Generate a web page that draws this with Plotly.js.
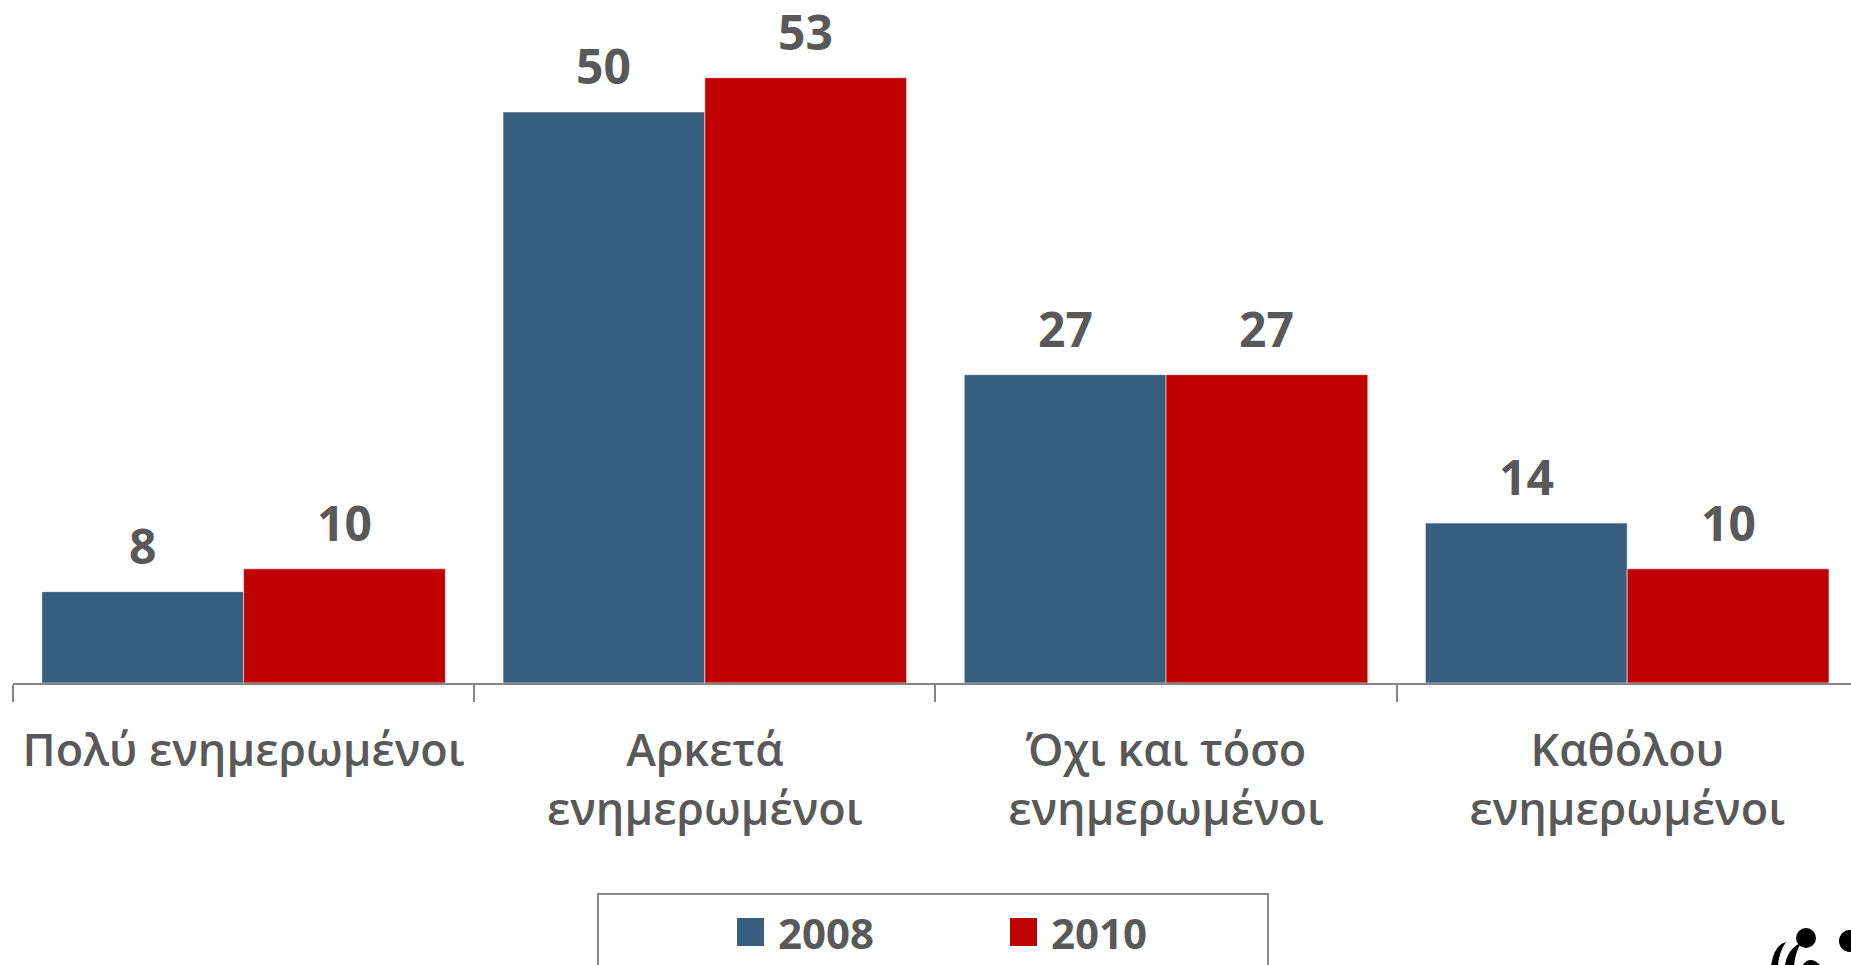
<!DOCTYPE html>
<html>
<head>
<meta charset="utf-8">
<script src="https://cdn.plot.ly/plotly-3.0.1.min.js"></script>
<style>
html,body{margin:0;padding:0;background:#fff;overflow:hidden;}
#chart{width:1851px;height:965px;}
</style>
</head>
<body>
<div id="chart"></div>
<script>
// ---- data ----
const categories = ['Πολύ ενημερωμένοι', 'Αρκετά<br>ενημερωμένοι', 'Όχι και τόσο<br>ενημερωμένοι', 'Καθόλου<br>ενημερωμένοι'];
const seriesNames = ['2008', '2010'];
const values2008 = [8, 50, 27, 14];
const values2010 = [10, 53, 27, 10];
const seriesColors = ['#375E7F', '#C00000'];

// ---- layout constants ----
const W = 1851, H = 965;
const M = {l: 13, r: 0, t: 20, b: 282};
const plotW = W - M.l - M.r, plotH = H - M.t - M.b;
const catPx = 461.2;
const xRange = [-0.5, -0.5 + plotW / catPx];
const pxPerUnit = 11.42;
const yRange = [0, plotH / pxPerUnit];
const barGap = 0.125;
const barW = (1 - barGap) / 2;
const offsets = [-barW, 0];
const textColor = '#595959';
const FONT = '"Open Sans", "Noto Sans", sans-serif';

const px2x = p => (p - M.l) / plotW;
const px2y = p => (H - M.b - p) / plotH;

const allValues = [values2008, values2010];

const traces = allValues.map((vals, s) => ({
  type: 'bar',
  name: seriesNames[s],
  x: categories,
  y: vals,
  width: barW,
  offset: offsets[s],
  marker: {color: seriesColors[s], line: {color: 'rgba(255,255,255,0.55)', width: 1}},
  hoverinfo: 'x+y+name',
  showlegend: false
}));

const annotations = [];
allValues.forEach((vals, s) => {
  vals.forEach((v, i) => {
    annotations.push({
      xref: 'x', yref: 'y',
      x: i + offsets[s] + barW / 2, y: v,
      text: String(v),
      showarrow: false,
      xanchor: 'center', yanchor: 'bottom',
      yshift: 12,
      font: {family: FONT, size: 48, weight: 700, color: textColor}
    });
  });
});

// custom legend
const legendSquares = [[737, 764], [1010, 1037]];
const legendTextX = [776, 1049];
const shapes = [];
shapes.push({
  type: 'rect', xref: 'paper', yref: 'paper',
  x0: px2x(598), x1: px2x(1268), y0: px2y(985), y1: px2y(894),
  line: {color: '#898989', width: 2}, fillcolor: 'rgba(0,0,0,0)'
});
seriesNames.forEach((nm, s) => {
  shapes.push({
    type: 'rect', xref: 'paper', yref: 'paper',
    x0: px2x(legendSquares[s][0]), x1: px2x(legendSquares[s][1]),
    y0: px2y(946), y1: px2y(918),
    line: {width: 0}, fillcolor: seriesColors[s]
  });
  annotations.push({
    xref: 'paper', yref: 'paper',
    x: px2x(legendTextX[s]), y: px2y(932),
    xanchor: 'left', yanchor: 'middle',
    text: nm, showarrow: false,
    font: {family: FONT, size: 42, weight: 700, color: textColor}
  });
});

// logo fragment (bottom-right corner)
function circ(cx, cy, r) {
  return {type: 'circle', xref: 'paper', yref: 'paper',
    x0: px2x(cx - r), x1: px2x(cx + r), y0: px2y(cy + r), y1: px2y(cy - r),
    line: {width: 0}, fillcolor: '#000'};
}
shapes.push(circ(1806, 938, 10));
shapes.push(circ(1850, 941, 11));
shapes.push({type: 'path', xref: 'paper', yref: 'paper',
  path: 'M' + px2x(1771) + ',' + px2y(966) + ' Q' + px2x(1774) + ',' + px2y(945) + ' ' + px2x(1786) + ',' + px2y(942) +
        ' Q' + px2x(1779) + ',' + px2y(952) + ' ' + px2x(1778) + ',' + px2y(966) + ' Z',
  line: {width: 0}, fillcolor: '#000'});
shapes.push({type: 'path', xref: 'paper', yref: 'paper',
  path: 'M' + px2x(1785) + ',' + px2y(966) + ' Q' + px2x(1787) + ',' + px2y(949) + ' ' + px2x(1801) + ',' + px2y(943) +
        ' Q' + px2x(1795) + ',' + px2y(953) + ' ' + px2x(1794) + ',' + px2y(966) + ' Z',
  line: {width: 0}, fillcolor: '#000'});
shapes.push({type: 'path', xref: 'paper', yref: 'paper',
  path: 'M' + px2x(1802) + ',' + px2y(966) + ' Q' + px2x(1810) + ',' + px2y(954) + ' ' + px2x(1821) + ',' + px2y(966) + ' Z',
  line: {width: 0}, fillcolor: '#000'});

const layout = {
  width: W, height: H,
  margin: M,
  paper_bgcolor: '#fff', plot_bgcolor: '#fff',
  barmode: 'group',
  showlegend: false,
  xaxis: {
    type: 'category',
    range: xRange,
    tickson: 'boundaries',
    tickangle: 0,
    ticks: 'outside', ticklen: 17, tickwidth: 2, tickcolor: '#868686',
    ticklabelstandoff: 27,
    showline: true, linecolor: '#868686', linewidth: 2,
    showgrid: false, zeroline: false,
    tickfont: {family: FONT, size: 45, weight: 600, color: textColor},
    fixedrange: true
  },
  yaxis: {
    range: yRange, visible: false, showgrid: false, zeroline: false, fixedrange: true
  },
  annotations: annotations,
  shapes: shapes
};

Plotly.newPlot('chart', traces, layout, {displayModeBar: false, staticPlot: true});
</script>
</body>
</html>
